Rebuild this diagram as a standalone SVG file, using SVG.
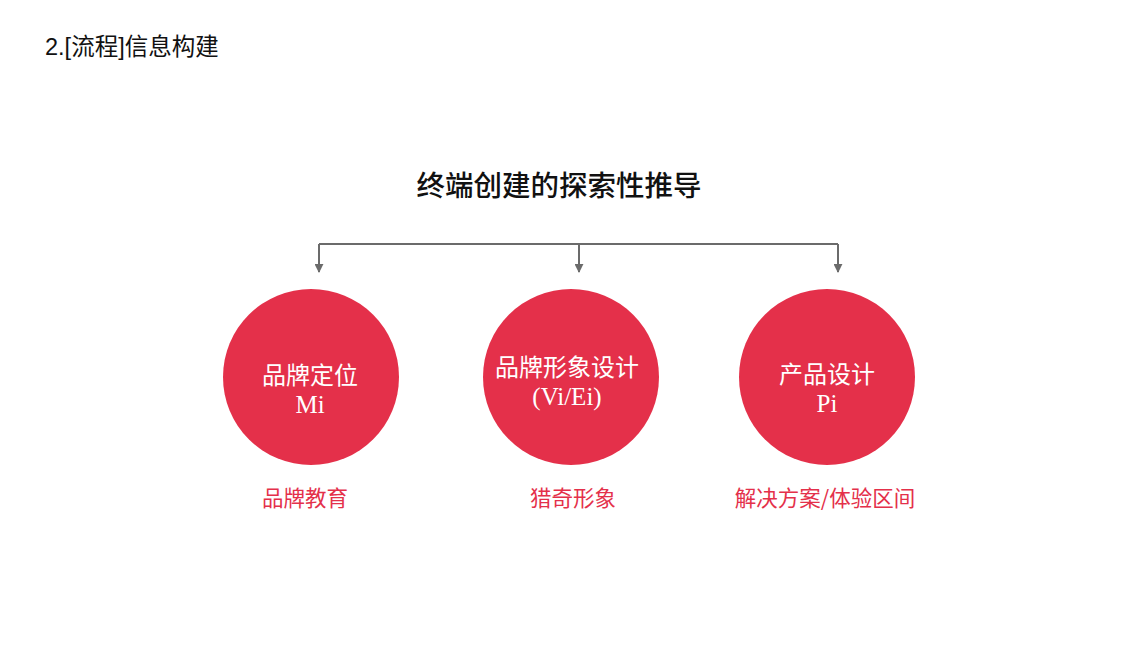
<svg xmlns="http://www.w3.org/2000/svg" width="1134" height="645" viewBox="0 0 1134 645">
<defs>
<marker id="arr" viewBox="0 0 10 10" refX="9" refY="5" markerWidth="9" markerHeight="9" markerUnits="userSpaceOnUse" orient="auto">
<path d="M0,0 L10,5 L0,10 z" fill="#6b6b6b"/>
</marker>
</defs>
<style>
.circ{fill:#e4304a;}
.ct{font-family:"Liberation Serif","Noto Sans CJK SC",serif;font-size:24px;fill:#ffffff;text-anchor:middle;}
.en{font-size:25px;}
.lb{font-family:"Noto Sans CJK SC",sans-serif;font-size:21.5px;fill:#e4304a;text-anchor:middle;}
.conn{stroke:#6b6b6b;stroke-width:2;fill:none;}
</style>
<rect width="1134" height="645" fill="#ffffff"/>
<text x="45" y="55" font-family="Liberation Sans,Noto Sans CJK SC,sans-serif" font-size="23.5" fill="#111">2.[流程]信息构建</text>
<text id="title" x="559" y="196" font-family="Noto Sans CJK SC,sans-serif" font-size="28.5" font-weight="500" fill="#111" text-anchor="middle">终端创建的探索性推导</text>
<g id="connectors">
<path class="conn" d="M319,244 L838,244"/>
<path class="conn" d="M319,244 L319,272" marker-end="url(#arr)"/>
<path class="conn" d="M579,244 L579,272" marker-end="url(#arr)"/>
<path class="conn" d="M838,244 L838,272" marker-end="url(#arr)"/>
</g>
<g id="node1">
<circle class="circ" cx="311" cy="377" r="88"/>
<text class="ct" x="310" y="384">品牌定位</text>
<text class="ct en" x="310" y="413">Mi</text>
</g>
<g id="node2">
<circle class="circ" cx="571" cy="377" r="88"/>
<text class="ct" x="567" y="376">品牌形象设计</text>
<text class="ct en" x="567" y="405">(Vi/Ei)</text>
</g>
<g id="node3">
<circle class="circ" cx="827" cy="377" r="88"/>
<text class="ct" x="827" y="383">产品设计</text>
<text class="ct en" x="827" y="412">Pi</text>
</g>
<g id="label1"><text class="lb" x="305" y="506">品牌教育</text></g>
<g id="label2"><text class="lb" x="573" y="506">猎奇形象</text></g>
<g id="label3"><text class="lb" x="825" y="506">解决方案/体验区间</text></g>
</svg>
